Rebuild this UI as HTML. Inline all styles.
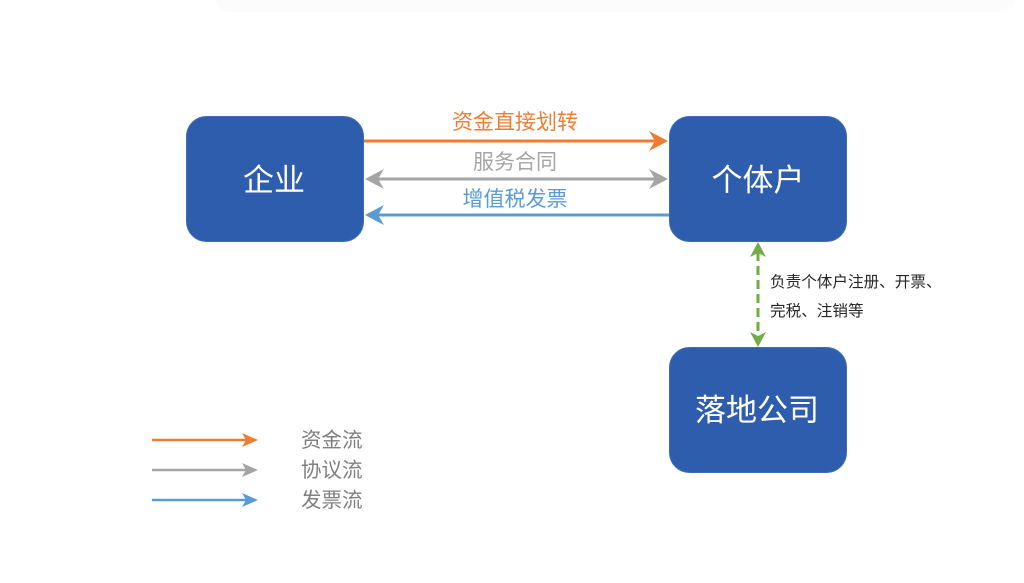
<!DOCTYPE html>
<html>
<head>
<meta charset="utf-8">
<style>
html,body{margin:0;padding:0;background:#ffffff;}
body{width:1024px;height:583px;overflow:hidden;position:relative;}
svg{position:absolute;left:0;top:0;}
text{font-family:"Liberation Sans","Noto Sans CJK SC",sans-serif;}
</style>
</head>
<body>
<svg width="1024" height="583" viewBox="0 0 1024 583" xmlns="http://www.w3.org/2000/svg">
  <!-- faint top shadow -->
  <rect x="215" y="-20" width="800" height="32" rx="14" fill="#fcfcfc"/>

  <!-- boxes -->
  <rect x="186.5" y="116.5" width="177" height="125" rx="20" fill="#2E5DAD" stroke="#3F6BB5" stroke-width="1"/>
  <rect x="669.5" y="116.5" width="177" height="125" rx="20" fill="#2E5DAD" stroke="#3F6BB5" stroke-width="1"/>
  <rect x="669.5" y="347.5" width="177" height="125" rx="20" fill="#2E5DAD" stroke="#3F6BB5" stroke-width="1"/>

  <text x="274" y="191" font-size="31" fill="#ffffff" text-anchor="middle">企业</text>
  <text x="758" y="191" font-size="31" fill="#ffffff" text-anchor="middle">个体户</text>
  <text x="757" y="421" font-size="31" fill="#ffffff" text-anchor="middle">落地公司</text>

  <!-- orange arrow -->
  <line x1="364" y1="141" x2="656" y2="141" stroke="#ED7D31" stroke-width="3"/>
  <polygon points="668,141 649,131 655,141 649,151" fill="#ED7D31"/>
  <text x="515" y="129" font-size="21" fill="#ED7D31" text-anchor="middle">资金直接划转</text>

  <!-- gray double arrow -->
  <line x1="376" y1="179" x2="656" y2="179" stroke="#A5A5A5" stroke-width="3"/>
  <polygon points="668,179 649,169 655,179 649,189" fill="#A5A5A5"/>
  <polygon points="365,179 384,169 378,179 384,189" fill="#A5A5A5"/>
  <text x="515" y="169" font-size="21" fill="#A5A5A5" text-anchor="middle">服务合同</text>

  <!-- blue arrow -->
  <line x1="376" y1="215" x2="669" y2="215" stroke="#5B9BD5" stroke-width="3"/>
  <polygon points="365,215 384,205 378,215 384,225" fill="#5B9BD5"/>
  <text x="515" y="206" font-size="21" fill="#5B9BD5" text-anchor="middle">增值税发票</text>

  <!-- green dashed double arrow -->
  <line x1="758" y1="252" x2="758" y2="336" stroke="#70AD47" stroke-width="3" stroke-dasharray="9,5"/>
  <polygon points="758,242 750,257 758,253 766,257" fill="#70AD47"/>
  <polygon points="758,347 750,332 758,336 766,332" fill="#70AD47"/>
  <text x="770" y="287" font-size="15.6" fill="#262626">负责个体户注册、开票、</text>
  <text x="770" y="316" font-size="15.6" fill="#262626">完税、注销等</text>

  <!-- legend -->
  <line x1="152" y1="440" x2="248" y2="440" stroke="#ED7D31" stroke-width="2.5"/>
  <polygon points="258,440 242,433 246,440 242,447" fill="#ED7D31"/>
  <line x1="152" y1="470" x2="248" y2="470" stroke="#A5A5A5" stroke-width="2.5"/>
  <polygon points="258,470 242,463 246,470 242,477" fill="#A5A5A5"/>
  <line x1="152" y1="500" x2="248" y2="500" stroke="#5B9BD5" stroke-width="2.5"/>
  <polygon points="258,500 242,493 246,500 242,507" fill="#5B9BD5"/>

  <text x="301" y="447" font-size="20.5" fill="#7F7F7F">资金流</text>
  <text x="301" y="477" font-size="20.5" fill="#7F7F7F">协议流</text>
  <text x="301" y="507" font-size="20.5" fill="#7F7F7F">发票流</text>
</svg>
</body>
</html>
